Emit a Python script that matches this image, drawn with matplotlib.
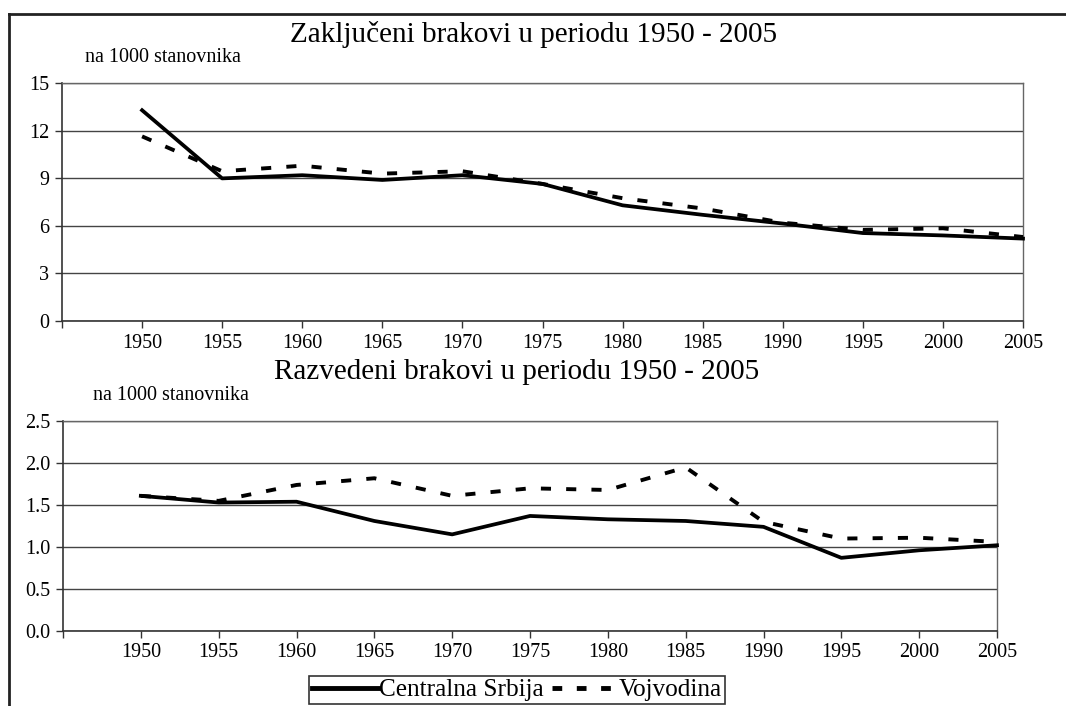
import matplotlib
matplotlib.use("Agg")
import matplotlib.pyplot as plt
from matplotlib.lines import Line2D

plt.rcParams['font.family'] = ['Liberation Serif', 'DejaVu Serif']

years = [1950, 1955, 1960, 1965, 1970, 1975, 1980, 1985, 1990, 1995, 2000, 2005]
brakovi_srbija = [13.3, 9.0, 9.2, 8.9, 9.2, 8.65, 7.3, 6.7, 6.15, 5.55, 5.4, 5.2]
brakovi_vojvodina = [11.65, 9.45, 9.8, 9.3, 9.45, 8.65, 7.75, 7.1, 6.2, 5.75, 5.85, 5.3]
razvodi_srbija = [1.61, 1.53, 1.54, 1.31, 1.15, 1.37, 1.33, 1.31, 1.24, 0.87, 0.96, 1.02]
razvodi_vojvodina = [1.61, 1.55, 1.74, 1.82, 1.61, 1.70, 1.68, 1.95, 1.30, 1.10, 1.11, 1.06]
tick_labels = [str(y) for y in years]

title_top = "Zaključeni brakovi u periodu 1950 - 2005"
title_bottom = "Razvedeni brakovi u periodu 1950 - 2005"
unit_label = "na 1000 stanovnika"
series_names = ["Centralna Srbija", "Vojvodina"]

fig = plt.figure(figsize=(10.66, 7.06), dpi=100)

ax1 = fig.add_axes([62/1066, 1-321/706, (1023-62)/1066, (321-83.3)/706])
ax2 = fig.add_axes([63/1066, 1-630.7/706, (997-63)/1066, (630.7-421.3)/706])

def style(ax, ylim, yticks, yfmt):
    ax.set_xlim(1945, 2005)
    ax.set_ylim(*ylim)
    ax.set_xticks([1945] + years)
    ax.set_xticklabels([''] + tick_labels)
    ax.set_yticks(yticks)
    ax.set_yticklabels([yfmt.format(v) for v in yticks])
    ax.tick_params(axis='both', labelsize=14.5, direction='out', length=5,
                   width=1, color='#333333', pad=4)
    ax.yaxis.grid(True, color='#444444', linewidth=1)
    ax.set_axisbelow(True)
    for s in ['left', 'bottom']:
        ax.spines[s].set_color('#333333')
        ax.spines[s].set_linewidth(1.2)
    for s in ['right', 'top']:
        ax.spines[s].set_color('#666666')
        ax.spines[s].set_linewidth(1)

style(ax1, (0, 15), [0, 3, 6, 9, 12, 15], "{:.0f}")
style(ax2, (0, 2.5), [0.0, 0.5, 1.0, 1.5, 2.0, 2.5], "{:.1f}")

for ax, s1, s2 in [(ax1, brakovi_srbija, brakovi_vojvodina),
                   (ax2, razvodi_srbija, razvodi_vojvodina)]:
    ax.plot(years, s1, color='black', linewidth=2.7, solid_joinstyle='round',
            label=series_names[0], clip_on=False, zorder=3)
    ax.plot(years, s2, color='black', linewidth=2.8, dashes=(2.6, 3.9),
            label=series_names[1], clip_on=False, zorder=3)

fig.text(534/1066, 1-35/706, title_top, ha='center', va='center', fontsize=21)
fig.text(517/1066, 1-372/706, title_bottom, ha='center', va='center', fontsize=21)
fig.text(85/1066, 1-58/706, unit_label, ha='left', va='center', fontsize=14.5)
fig.text(93/1066, 1-395/706, unit_label, ha='left', va='center', fontsize=14.5)

handles = [Line2D([], [], color='black', linewidth=3.5),
           Line2D([], [], color='black', linewidth=3.5, dashes=(2, 3))]
leg = fig.legend(handles, series_names, loc='center',
                 bbox_to_anchor=(517/1066, 1-690/706), ncol=2, fontsize=18.2,
                 frameon=True, fancybox=False, edgecolor='black',
                 handlelength=2.6, handletextpad=0.05, columnspacing=0.3,
                 borderpad=0.12, borderaxespad=0)
leg.get_frame().set_linewidth(1.2)

# outer frame
fig.add_artist(Line2D([9/1066, 9/1066], [0, 1-14/706], color='#222222', linewidth=2,
                      transform=fig.transFigure))
fig.add_artist(Line2D([9/1066, 1.0], [1-14/706, 1-14/706], color='#222222', linewidth=2,
                      transform=fig.transFigure))

fig.savefig("out.png", dpi=100)
